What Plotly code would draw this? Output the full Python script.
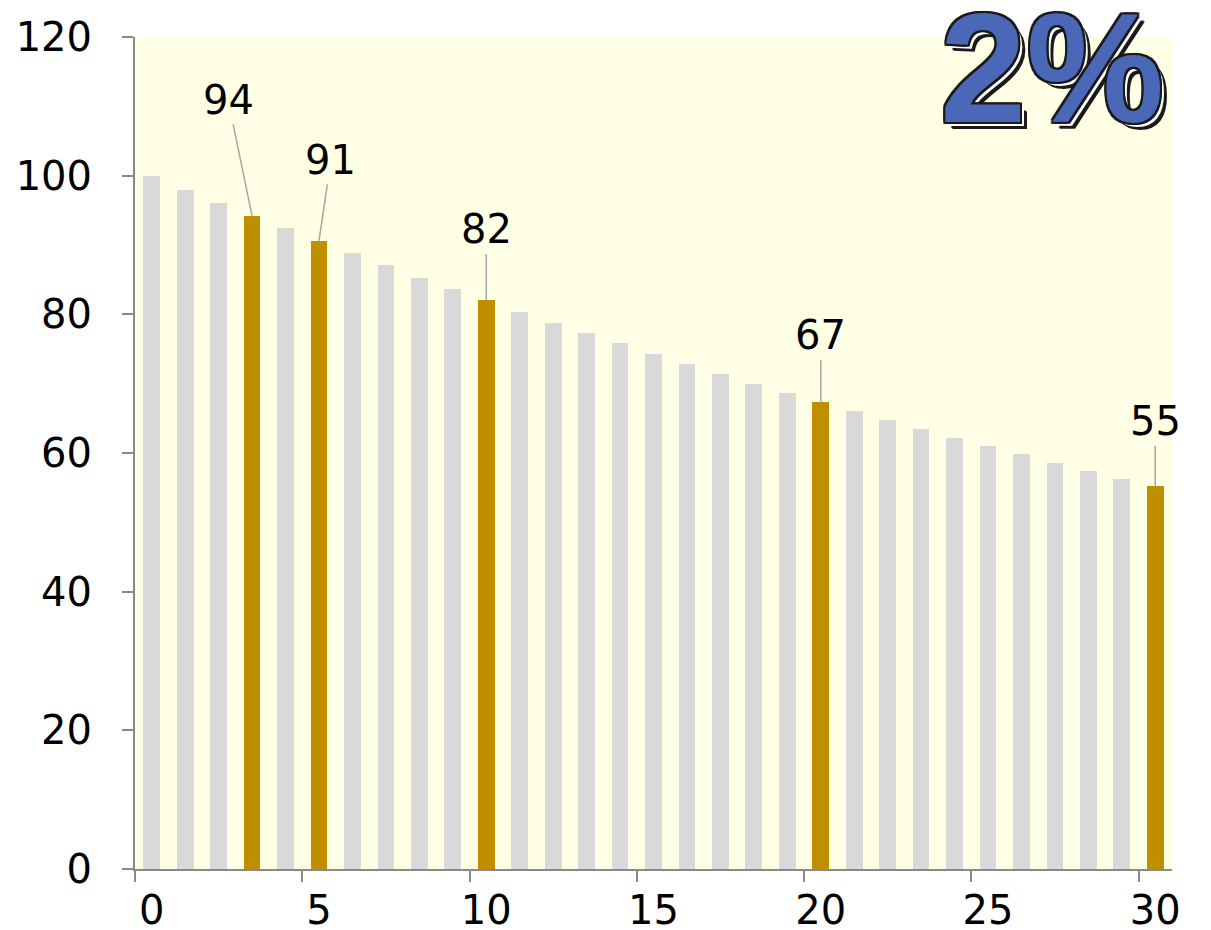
import plotly.graph_objects as go

# year index and remaining value
years = list(range(31))
values = [100.0, 98.0, 96.1, 94.2, 92.4, 90.6, 88.8, 87.1, 85.3, 83.7,
          82.0, 80.4, 78.8, 77.3, 75.8, 74.3, 72.8, 71.4, 70.0, 68.6,
          67.3, 66.0, 64.7, 63.4, 62.2, 61.0, 59.8, 58.6, 57.4, 56.3, 55.2]
highlight_years = [3, 5, 10, 20, 30]
highlight_labels = ['94', '91', '82', '67', '55']
x_tick_vals = [0, 5, 10, 15, 20, 25, 30]
rate_text = '2%'

GRAY = '#D9D9D9'
GOLD = '#BF8F00'
AXIS = '#898989'
FONT = 'DejaVu Sans'

colors = [GOLD if y in highlight_years else GRAY for y in years]

fig = go.Figure(go.Bar(x=years, y=values, width=0.5, marker=dict(color=colors, line_width=0),
                       hoverinfo='x+y'))

# leader-line offsets (pixels) for each highlighted label
offsets = [(-24, -116), (12, -81), (0, -71), (0, -67), (0, -65)]
for yr, lab, (ax, ay) in zip(highlight_years, highlight_labels, offsets):
    fig.add_annotation(x=yr, y=values[yr], text=lab, showarrow=True, arrowhead=0,
                       arrowwidth=1.5, arrowcolor='#A6A6A6', ax=ax, ay=ay, standoff=0,
                       font=dict(family=FONT, size=40, color='#000000'))

outline = ', '.join('%dpx %dpx 0 #1a1a1a' % (dx, dy)
                    for dx in (-2, 0, 2) for dy in (-2, 0, 2) if dx or dy)
fig.add_annotation(xref='paper', yref='paper', x=0.884, y=0.962, text='<b>%s</b>' % rate_text,
                   showarrow=False, xanchor='center', yanchor='middle',
                   font=dict(family='Liberation Sans', size=155, color='#4A67B8',
                             shadow=outline + ', 4px 4px 0 #ffffff, 6px 6px 0 #1a1a1a, 7px 7px 0 #1a1a1a'))

# page body has an 8px margin, so the figure is 8px smaller and margins shifted
fig.update_layout(
    width=1203, height=922,
    margin=dict(l=127, r=39, t=29, b=61, autoexpand=False),
    paper_bgcolor='white',
    plot_bgcolor='#FFFFE5',
    showlegend=False,
    bargap=0,
    font=dict(family=FONT, size=40, color='#000000'),
)
fig.update_xaxes(
    range=[-0.5, 30.5], tickmode='array', tickvals=x_tick_vals,
    ticktext=[str(v) for v in x_tick_vals],
    ticks='outside', ticklen=5, tickcolor='rgba(0,0,0,0)', ticklabelstandoff=0,
    minor=dict(tickmode='array', tickvals=[v - 0.5 for v in x_tick_vals], ticks='outside',
               ticklen=11, tickwidth=2, tickcolor=AXIS),
    showline=True, linecolor=AXIS, linewidth=2, showgrid=False, zeroline=False,
    tickfont=dict(family=FONT, size=40), automargin=False,
)
fig.update_yaxes(
    range=[0, 120], dtick=20, ticks='outside', ticklen=11, tickwidth=2, tickcolor=AXIS,
    showline=True, linecolor=AXIS, linewidth=2, showgrid=False, zeroline=False,
    ticklabelstandoff=22, tickfont=dict(family=FONT, size=40), automargin=False,
)

fig.write_html('out.html')
